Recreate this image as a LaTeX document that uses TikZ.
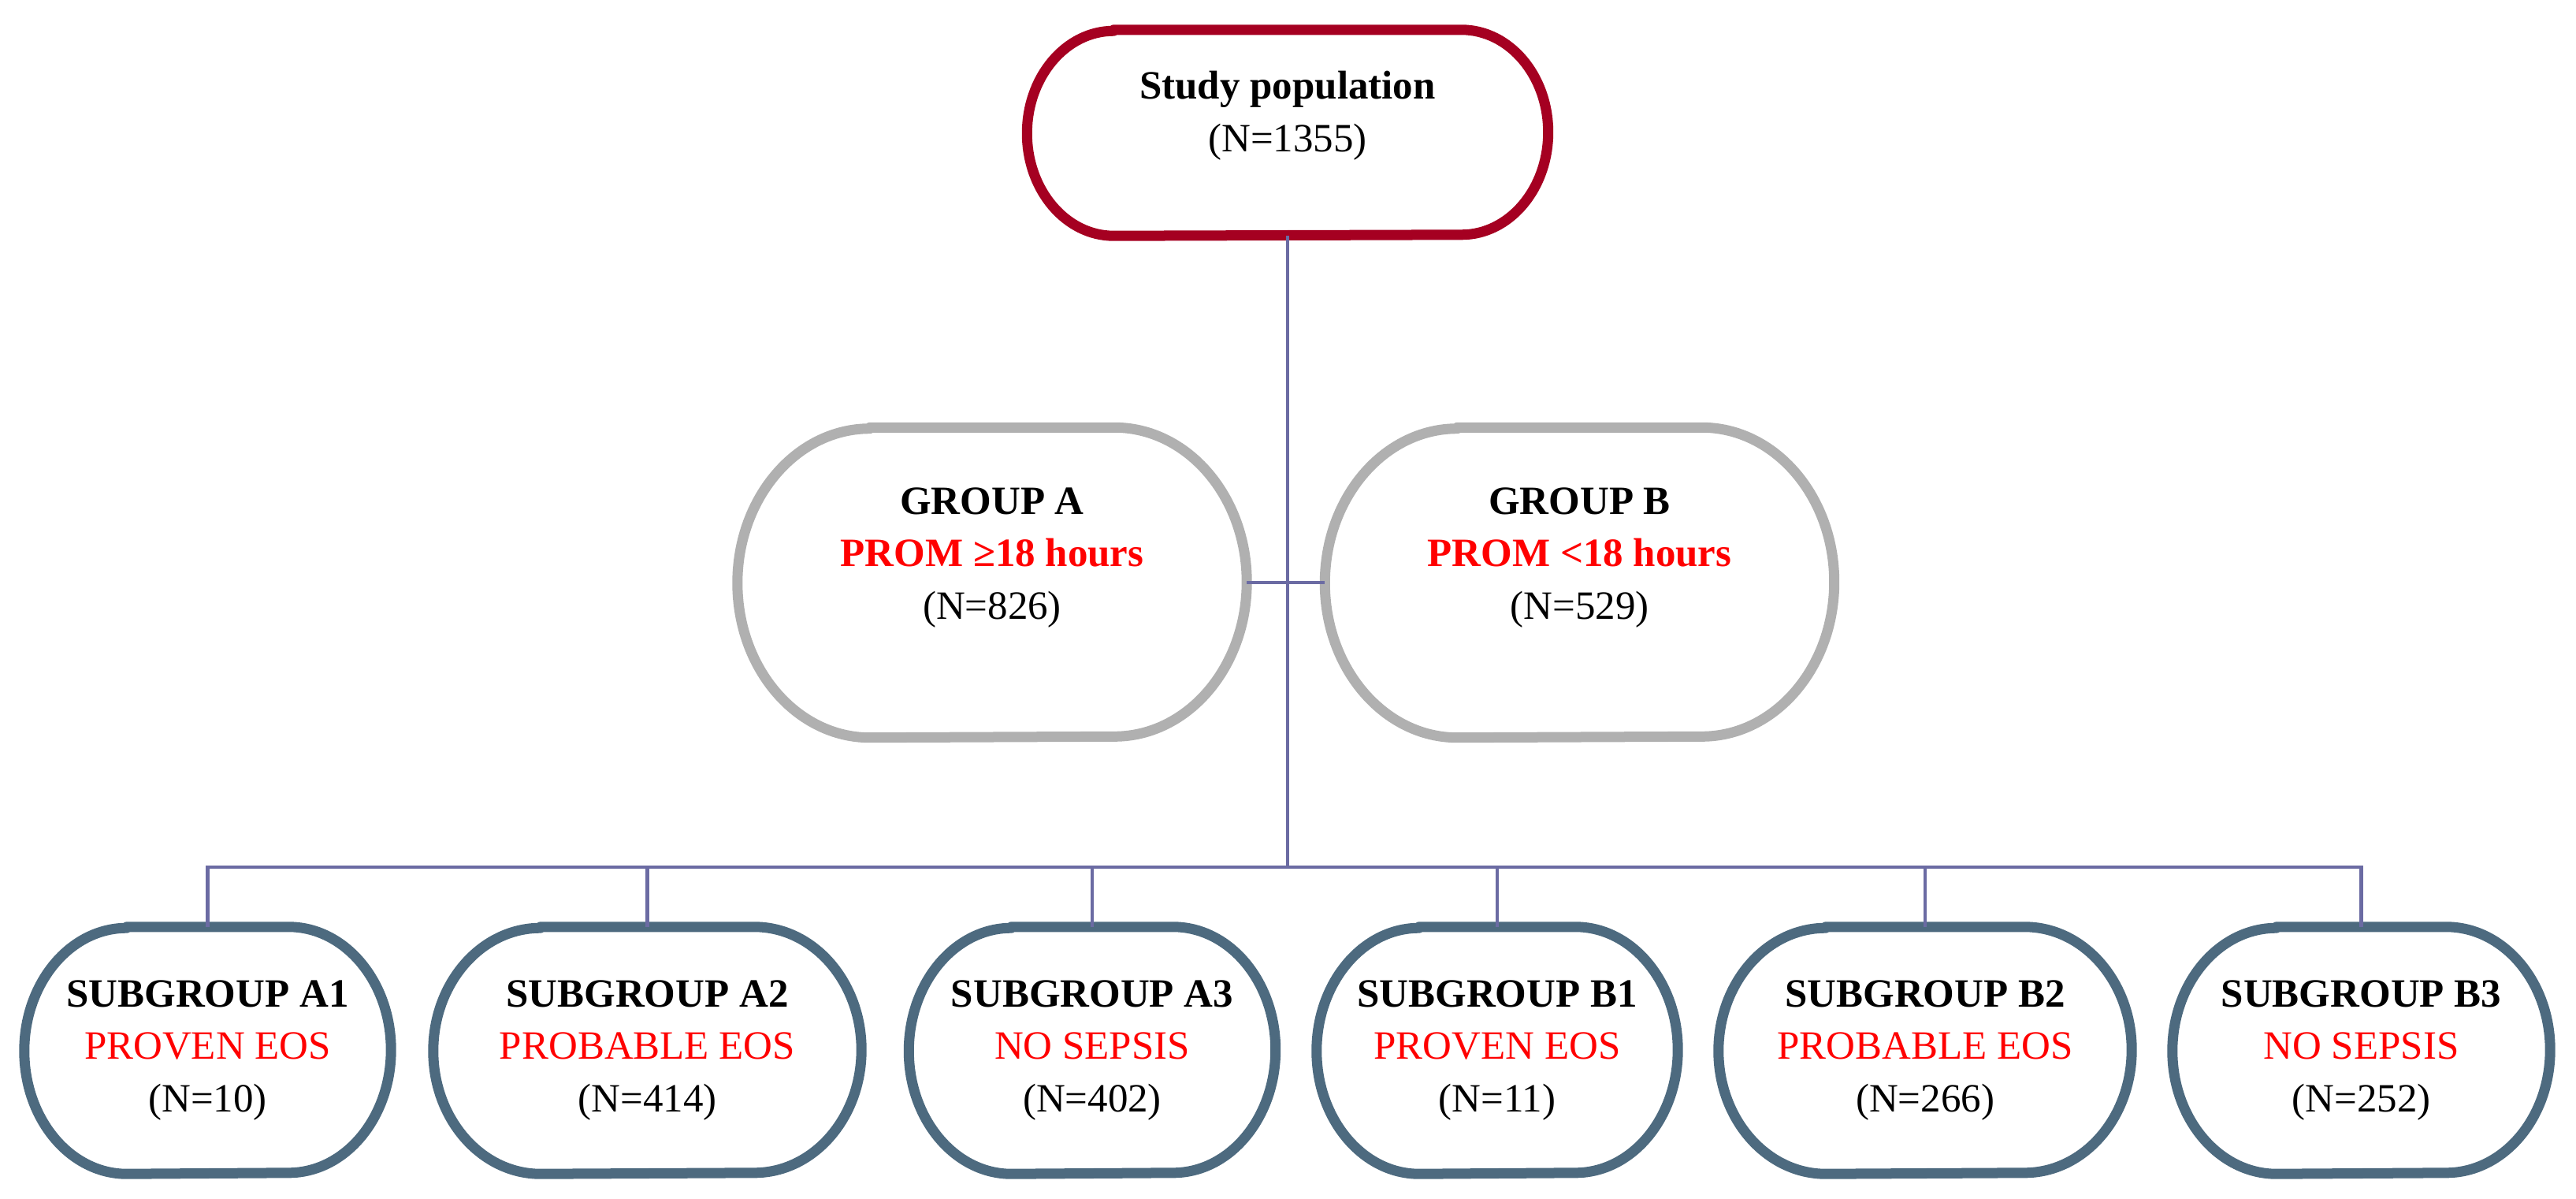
\documentclass[tikz,border=0pt]{standalone}
\usepackage{fontspec}
\setmainfont{Liberation Serif}
\usepackage{xcolor}
\usepackage{tikz}
\usetikzlibrary{positioning}

\definecolor{rootred}{HTML}{A50021}
\definecolor{groupgray}{HTML}{B0B0B0}
\definecolor{subslate}{HTML}{4D6A7F}
\definecolor{linkblue}{HTML}{6B6BA3}
\definecolor{hlred}{HTML}{FF0000}

\begin{document}
\begin{tikzpicture}[
    blob/.style={rectangle,align=center,inner sep=0pt,font=\fontsize{14.5}{19}\selectfont},
    rootbox/.style={blob,minimum width=6.6cm,minimum height=2.6cm},
    groupbox/.style={blob,minimum width=6.45cm,minimum height=3.92cm},
    subbox/.style={blob,minimum height=3.12cm},
    outline/.style={line width=3.7pt,line join=round},
    link/.style={draw=linkblue,line width=1.3pt}]
    \useasboundingbox (0,0) rectangle (32.69,-15.21);

    % top and the two groups
    \node[rootbox] (pop) at (16.34,-1.685) {\textbf{Study population}\\(N=1355)\\[-3.6pt]\mbox{}};
    \node[groupbox] (grpA) at (12.59,-7.39) {\textbf{GROUP A}\\\textcolor{hlred}{\textbf{PROM ≥18 hours}}\\(N=826)\\[2pt]\mbox{}};
    \node[groupbox] (grpB) at (20.045,-7.39) {\textbf{GROUP B}\\\textcolor{hlred}{\textbf{PROM <18 hours}}\\(N=529)\\[2pt]\mbox{}};

    % subgroups
    \node[subbox,minimum width=4.64cm] (subA1) at (2.635,-13.325) {\textbf{SUBGROUP A1}\\\textcolor{hlred}{PROVEN EOS}\\(N=10)};
    \node[subbox,minimum width=5.42cm] (subA2) at (8.215,-13.325) {\textbf{SUBGROUP A2}\\\textcolor{hlred}{PROBABLE EOS}\\(N=414)};
    \node[subbox,minimum width=4.64cm] (subA3) at (13.86,-13.325) {\textbf{SUBGROUP A3}\\\textcolor{hlred}{NO SEPSIS}\\(N=402)};
    \node[subbox,minimum width=4.57cm] (subB1) at (19.00,-13.325) {\textbf{SUBGROUP B1}\\\textcolor{hlred}{PROVEN EOS}\\(N=11)};
    \node[subbox,minimum width=5.23cm] (subB2) at (24.43,-13.325) {\textbf{SUBGROUP B2}\\\textcolor{hlred}{PROBABLE EOS}\\(N=266)};
    \node[subbox,minimum width=4.78cm] (subB3) at (29.965,-13.325) {\textbf{SUBGROUP B3}\\\textcolor{hlred}{NO SEPSIS}\\(N=252)};

    % barrel outlines round the boxes
    \foreach \nm/\col/\rx/\ry in {pop/rootred/1.10/1.30, grpA/groupgray/1.68/1.96, grpB/groupgray/1.68/1.96,
                                  subA1/subslate/1.30/1.56, subA2/subslate/1.36/1.56, subA3/subslate/1.30/1.56,
                                  subB1/subslate/1.30/1.56, subB2/subslate/1.36/1.56, subB3/subslate/1.32/1.56}
        \draw[outline,draw=\col] ([xshift=\rx cm]\nm.north west) -- ([xshift=-\rx cm]\nm.north east)
            arc[start angle=90,end angle=0,x radius=\rx cm,y radius=\ry cm]
            arc[start angle=0,end angle=-90,x radius=\rx cm,y radius=\ry cm]
            -- ([xshift=\rx cm]\nm.south west)
            arc[start angle=270,end angle=180,x radius=\rx cm,y radius=\ry cm]
            arc[start angle=180,end angle=90,x radius=\rx cm,y radius=\ry cm] -- cycle;

    \coordinate (bus) at (16.33,-11.0);

    % connectors
    \draw[link] (pop.south) -- (pop.south |- bus);
    \draw[link] (grpA.east) -- (grpB.west);
    \draw[link] (subA1.north) |- (bus) -| (subB3.north);
    \foreach \s in {subA2,subA3,subB1,subB2}
        \draw[link] (\s.north) -- (\s.north |- bus);
\end{tikzpicture}
\end{document}
